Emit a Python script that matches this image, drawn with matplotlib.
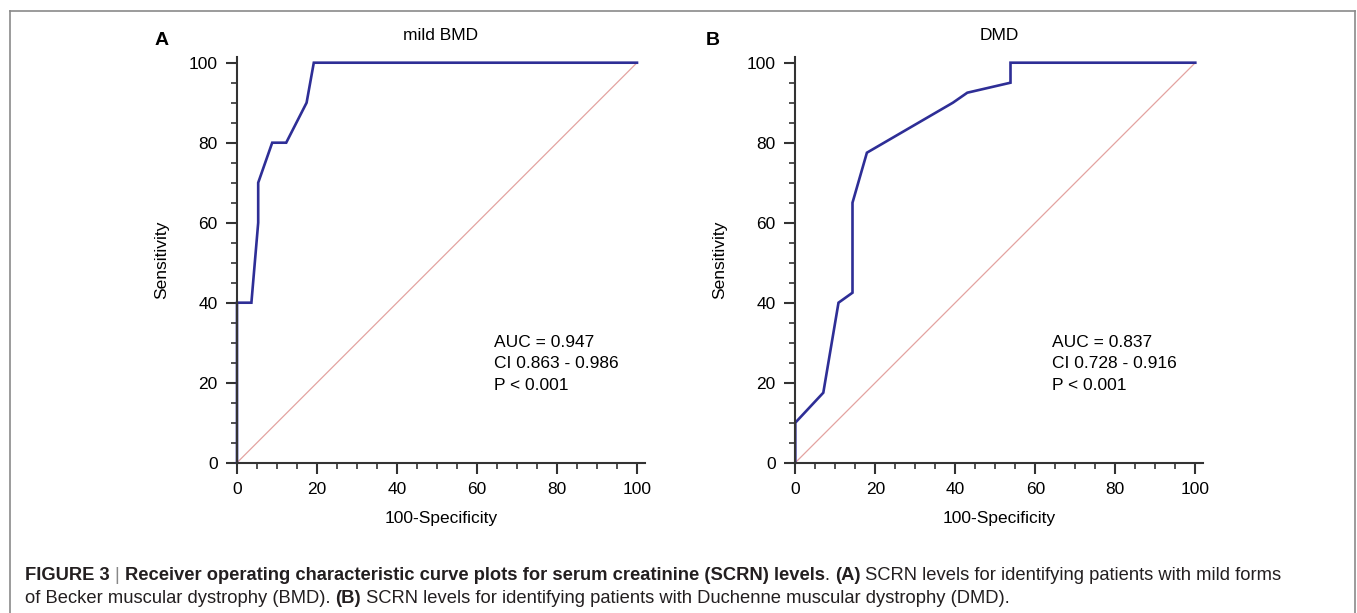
import matplotlib
matplotlib.use("Agg")
import matplotlib.pyplot as plt
from matplotlib.ticker import MultipleLocator
from matplotlib.lines import Line2D

plt.rcParams['font.family'] = ['Liberation Sans', 'DejaVu Sans']

# ROC curve points (x = 100-Specificity, y = Sensitivity)
bmd_x = [0, 0, 3.6, 5.3, 5.3, 8.8, 12.3, 17.4, 19.2, 100]
bmd_y = [0, 40, 40, 60, 70, 80, 80, 90, 100, 100]
dmd_x = [0, 0, 7.0, 10.8, 14.3, 14.3, 17.9, 39.4, 43.0, 53.8, 53.8, 100]
dmd_y = [0, 10, 17.5, 40, 42.5, 65, 77.5, 90, 92.5, 95, 100, 100]

titles = ['mild BMD', 'DMD']
panel_letters = ['A', 'B']
stats = [['AUC = 0.947', 'CI 0.863 - 0.986', 'P < 0.001'],
         ['AUC = 0.837', 'CI 0.728 - 0.916', 'P < 0.001']]

W, H = 1357, 613
fig = plt.figure(figsize=(W / 100, H / 100), dpi=100)

curve_col = '#2e2e96'
diag_col = '#e3a3a0'
axis_col = '#333333'

left_px = [237, 795.3]
letter_x = [-20.5, -22.5]
for i, (xs, ys) in enumerate([(bmd_x, bmd_y), (dmd_x, dmd_y)]):
    ax = fig.add_axes([left_px[i] / W, 1 - 462.7 / H, 408 / W, 406 / H])
    ax.plot([0, 100], [0, 100], color=diag_col, lw=0.9, clip_on=False)
    ax.plot(xs, ys, color=curve_col, lw=1.9, clip_on=False, solid_joinstyle='miter')
    ax.set_xlim(0, 102)
    ax.set_ylim(0, 101.5)
    for s in ['top', 'right']:
        ax.spines[s].set_visible(False)
    for s in ['left', 'bottom']:
        ax.spines[s].set_color(axis_col)
        ax.spines[s].set_linewidth(1.5)
    ax.xaxis.set_major_locator(MultipleLocator(20))
    ax.xaxis.set_minor_locator(MultipleLocator(5))
    ax.yaxis.set_major_locator(MultipleLocator(20))
    ax.yaxis.set_minor_locator(MultipleLocator(5))
    ax.tick_params(which='major', length=8, width=1.5, color=axis_col,
                   labelsize=12.5, pad=6, direction='out')
    ax.tick_params(which='minor', length=4.5, width=1.2, color=axis_col, direction='out')
    ax.set_xlabel('100-Specificity', fontsize=12.5, labelpad=10)
    ax.set_ylabel('Sensitivity', fontsize=12.5, labelpad=14)
    ax.set_title(titles[i], fontsize=12.5, pad=12)
    ax.text(64.3, 32, '\n'.join(stats[i]), fontsize=12.5, va='top', ha='left',
            linespacing=1.55)
    ax.text(letter_x[i], 103.5, panel_letters[i], fontsize=14, fontweight='bold',
            va='bottom', ha='left')

# frame around the figure panel
frame_col = '#8a8a8a'
fig.add_artist(Line2D([9.5 / W, 9.5 / W], [0, 1 - 11.3 / H], color=frame_col, lw=1.2))
fig.add_artist(Line2D([1354.7 / W, 1354.7 / W], [0, 1 - 11.3 / H], color=frame_col, lw=1.2))
fig.add_artist(Line2D([9.5 / W, 1354.7 / W], [1 - 11.3 / H, 1 - 11.3 / H], color=frame_col, lw=1.2))

# caption, built from bold / regular pieces chained one after another
cap_fam = ['Liberation Sans Narrow', 'Liberation Sans', 'DejaVu Sans']
cap_col = '#231f20'
cap_size = 13.2
line1 = [('FIGURE 3 ', 'bold', cap_col), ('| ', 'normal', '#888888'),
         ('Receiver operating characteristic curve plots for serum creatinine (SCRN) levels', 'bold', cap_col),
         ('. ', 'normal', cap_col), ('(A)', 'bold', cap_col),
         (' SCRN levels for identifying patients with mild forms', 'normal', cap_col)]
line2 = [('of Becker muscular dystrophy (BMD). ', 'normal', cap_col), ('(B)', 'bold', cap_col),
         (' SCRN levels for identifying patients with Duchenne muscular dystrophy (DMD).', 'normal', cap_col)]

for pieces, ybase in [(line1, 1 - 580 / H), (line2, 1 - 603 / H)]:
    prev = None
    for txt, wt, col in pieces:
        if prev is None:
            prev = fig.text(25 / W, ybase, txt, fontsize=cap_size, fontweight=wt, color=col,
                            family=cap_fam, va='baseline', ha='left')
        else:
            prev = fig.add_artist(plt.Annotation(txt, xy=(1, 0), xycoords=prev,
                                                 va='bottom', ha='left', fontsize=cap_size,
                                                 fontweight=wt, color=col, family=cap_fam))

fig.savefig('out.png', dpi=100)
